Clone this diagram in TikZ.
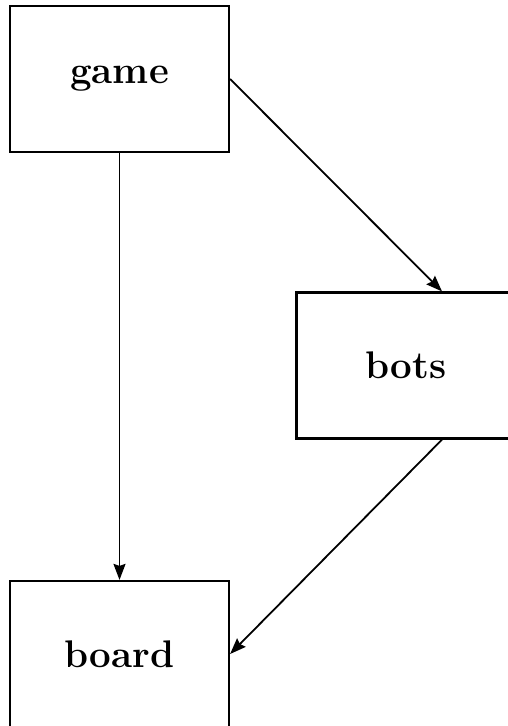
\documentclass[tikz,border=0pt]{standalone}
\usepackage{fontspec}
\usetikzlibrary{arrows.meta,calc}
\begin{document}
\begin{tikzpicture}[x=1pt,y=-1pt,
  box/.style={draw,line width=2.2pt,minimum width=219pt,minimum height=146pt,inner sep=0pt,
    font=\fontsize{38.5}{44}\selectfont\bfseries},
  conn/.style={line width=1.8pt,-{Stealth[length=16pt,width=12pt,inset=2pt]}}]
\useasboundingbox (0,0) rectangle (507,726);
\node[box] (game) at (119.5,79) {game};
\node[box] (bots) at (406,365.5) {bots};
\node[box] (board) at (119.5,654) {board};
\coordinate (botsin) at ([xshift=36pt]bots.north);
\coordinate (botsout) at ([xshift=36pt]bots.south);
\draw[conn] (game.east) -- (botsin);
\draw[conn] (game.south) -- (board.north);
\draw[conn] (botsout) -- (board.east);
\end{tikzpicture}
\end{document}
